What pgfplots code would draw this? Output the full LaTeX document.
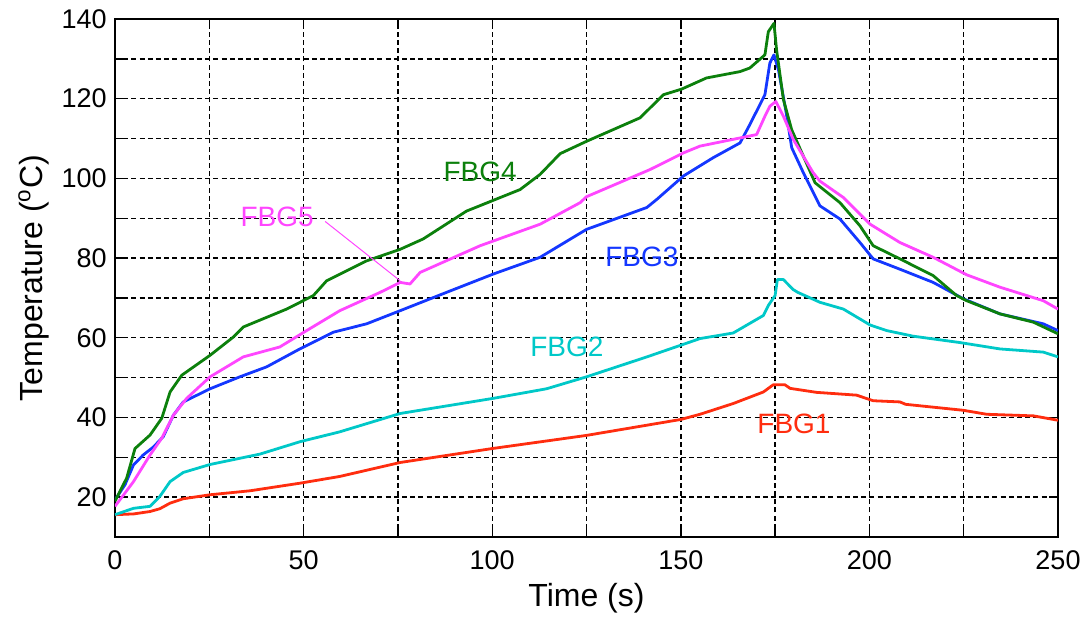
\documentclass[border=0pt]{standalone}
\usepackage{fontspec}
\setmainfont{Liberation Sans}
\usepackage{pgfplots}
\pgfplotsset{compat=1.18}
\definecolor{fbgA}{RGB}{255,45,15}
\definecolor{fbgB}{RGB}{0,200,200}
\definecolor{fbgC}{RGB}{20,55,255}
\definecolor{fbgD}{RGB}{12,128,12}
\definecolor{fbgE}{RGB}{255,70,255}
\begin{document}
\begin{tikzpicture}
\begin{axis}[
  scale only axis,
  width=471.5pt, height=259pt,
  xmin=0, xmax=250, ymin=10, ymax=140,
  xtick={0,25,...,250},
  xticklabels={0,,50,,100,,150,,200,,250},
  ytick={10,20,...,140},
  yticklabels={,20,,40,,60,,80,,100,,120,,140},
  tick align=inside, tick pos=both,
  major tick length=4.5pt,
  grid=major,
  major grid style={black, line width=0.7pt, dash pattern=on 2.5pt off 1.6pt},
  axis line style={black, line width=0.8pt},
  tick style={black, line width=0.7pt},
  /pgf/number format/assume math mode=true,
  ticklabel style={font=\fontsize{13.5}{15}\selectfont, inner sep=0pt},
  xticklabel style={yshift=-6.5pt},
  yticklabel style={xshift=-4pt},
  xlabel={Time (s)},
  ylabel={Temperature (\textsuperscript{o}C)},
  label style={font=\fontsize{16}{18}\selectfont},
  xlabel style={at={(axis description cs:0.5,-0.1351)}, anchor=base},
  ylabel style={at={(axis description cs:-0.0764,0.5)}, anchor=base, rotate=0},
  every axis plot/.append style={line width=1.4pt, line join=round},
  clip=true,
]
% FBG1
\addplot[fbgA] coordinates {(0,15.6)(5,15.8)(9.3,16.4)(11.9,17.1)(14.6,18.5)(18.1,19.6)(25.2,20.6)(35.8,21.6)(49,23.5)(59.6,25.2)(75.6,28.7)(100,32.2)(125,35.5)(150,39.5)(155.1,40.8)(163.9,43.5)(171.9,46.4)(174.5,48.2)(177.6,48.2)(179,47.3)(186,46.3)(196.6,45.6)(201,44.2)(208.1,43.9)(209.6,43.3)(224.9,41.8)(231.1,40.8)(243.5,40.4)(250,39.3)};
% FBG2
\addplot[fbgB] coordinates {(0,15.6)(4.9,17.2)(9.3,17.7)(11.9,20.2)(14.6,23.9)(18.1,26.2)(25.2,28.2)(38.4,30.8)(49,33.9)(59.6,36.4)(75.6,41)(100.3,44.8)(114.4,47.2)(125,50.2)(141,55.2)(155.1,59.8)(163.9,61.2)(171.9,65.6)(173.2,68.1)(175,70.6)(175.6,74.6)(177.2,74.6)(179.8,72.1)(181,71.4)(186.9,68.9)(193.1,67.2)(200.2,63.2)(204.6,61.8)(211.6,60.4)(224,58.8)(234.6,57.2)(246.1,56.4)(250,55.2)};
% FBG3
\addplot[fbgC] coordinates {(0,19.3)(2.65,23.1)(4.9,28.1)(7.5,30.6)(10.2,32.6)(12.8,35.2)(15.5,40.6)(18.1,43.9)(25.2,47.2)(33.1,50.2)(40.2,52.7)(49,57.2)(57.9,61.4)(66.7,63.5)(75.6,66.8)(87.9,71.4)(100.3,76)(112.7,80.2)(125,87.2)(141,92.7)(143.6,94.7)(150.7,100.6)(158.6,105.2)(165.7,108.9)(168.3,113.5)(172.3,121)(173.6,128.9)(174.7,131)(175.9,127.2)(178.1,115.6)(179.4,107.7)(182.5,101.4)(186.9,93.1)(192.2,89.8)(197.5,83.9)(201,79.8)(208.1,77.2)(216.9,73.9)(224.9,69.8)(234.6,66)(246.1,63.5)(250,61.8)};
% FBG4
\addplot[fbgD] coordinates {(0,19)(3.1,24.8)(5.3,32.2)(9.3,35.6)(12.4,39.8)(14.6,46.4)(17.7,50.6)(25.2,55.6)(31.4,60.2)(34,62.7)(45.5,67.2)(52.6,70.6)(56.1,74.3)(66.7,79.3)(75.6,82.2)(81.7,84.8)(93.2,91.8)(107.4,97.2)(112.7,101)(118,106.2)(125,109.3)(139.2,115.2)(145.4,121)(150.2,122.4)(156.8,125.2)(165.7,126.8)(168.3,127.7)(172.3,131)(173.2,136.8)(174.7,138.9)(175.4,132.2)(177.2,119.8)(179.4,112.2)(185.6,98.9)(192.2,93.9)(197.5,88.1)(201,83.1)(208.1,79.8)(216.9,75.6)(223.1,70.6)(225.8,69.3)(234.6,66)(243.5,63.9)(250,61)};
% FBG5
\addplot[fbgE] coordinates {(0,17.7)(4.9,23.9)(9.3,30.6)(12.4,34.8)(15.5,40.6)(19,44.8)(25.2,50.2)(34,55.2)(43.7,57.7)(50.8,61.8)(59.6,66.8)(70.3,71.4)(75.6,73.9)(78.2,73.5)(80.9,76.4)(96.8,83.1)(112.7,88.5)(123.3,93.9)(125,95.4)(141.8,102.2)(150.7,106.4)(155.1,108.1)(163.9,109.8)(170.1,111)(172.3,115.6)(173.6,118.1)(175.2,119.3)(177.2,115.6)(179.8,109.8)(185.1,101.4)(186.9,99.3)(193.1,95.2)(200.2,88.5)(208.1,83.9)(216.9,80.2)(225.8,75.8)(234.6,72.7)(241.7,70.6)(246.1,69.3)(250,67.2)};
% leader line for FBG5 label
\addplot[fbgE, line width=0.5pt] coordinates {(55.7,89.2)(75.6,74.3)};
\node[text=fbgD, font=\fontsize{14}{16}\selectfont] at (axis cs:96.8,101.75) {FBG4};
\node[text=fbgE, font=\fontsize{14}{16}\selectfont] at (axis cs:43,90.25) {FBG5};
\node[text=fbgC, font=\fontsize{14}{16}\selectfont] at (axis cs:139.7,80.25) {FBG3};
\node[text=fbgB, font=\fontsize{14}{16}\selectfont] at (axis cs:119.8,57.75) {FBG2};
\node[text=fbgA, font=\fontsize{14}{16}\selectfont] at (axis cs:180,38.5) {FBG1};
\end{axis}
\path (current axis.south west) ++(-57.5pt,-39pt) coordinate (bbA);
\path (current axis.north east) ++(16pt,9.5pt) coordinate (bbB);
\path (bbA) rectangle (bbB);
\end{tikzpicture}
\end{document}
